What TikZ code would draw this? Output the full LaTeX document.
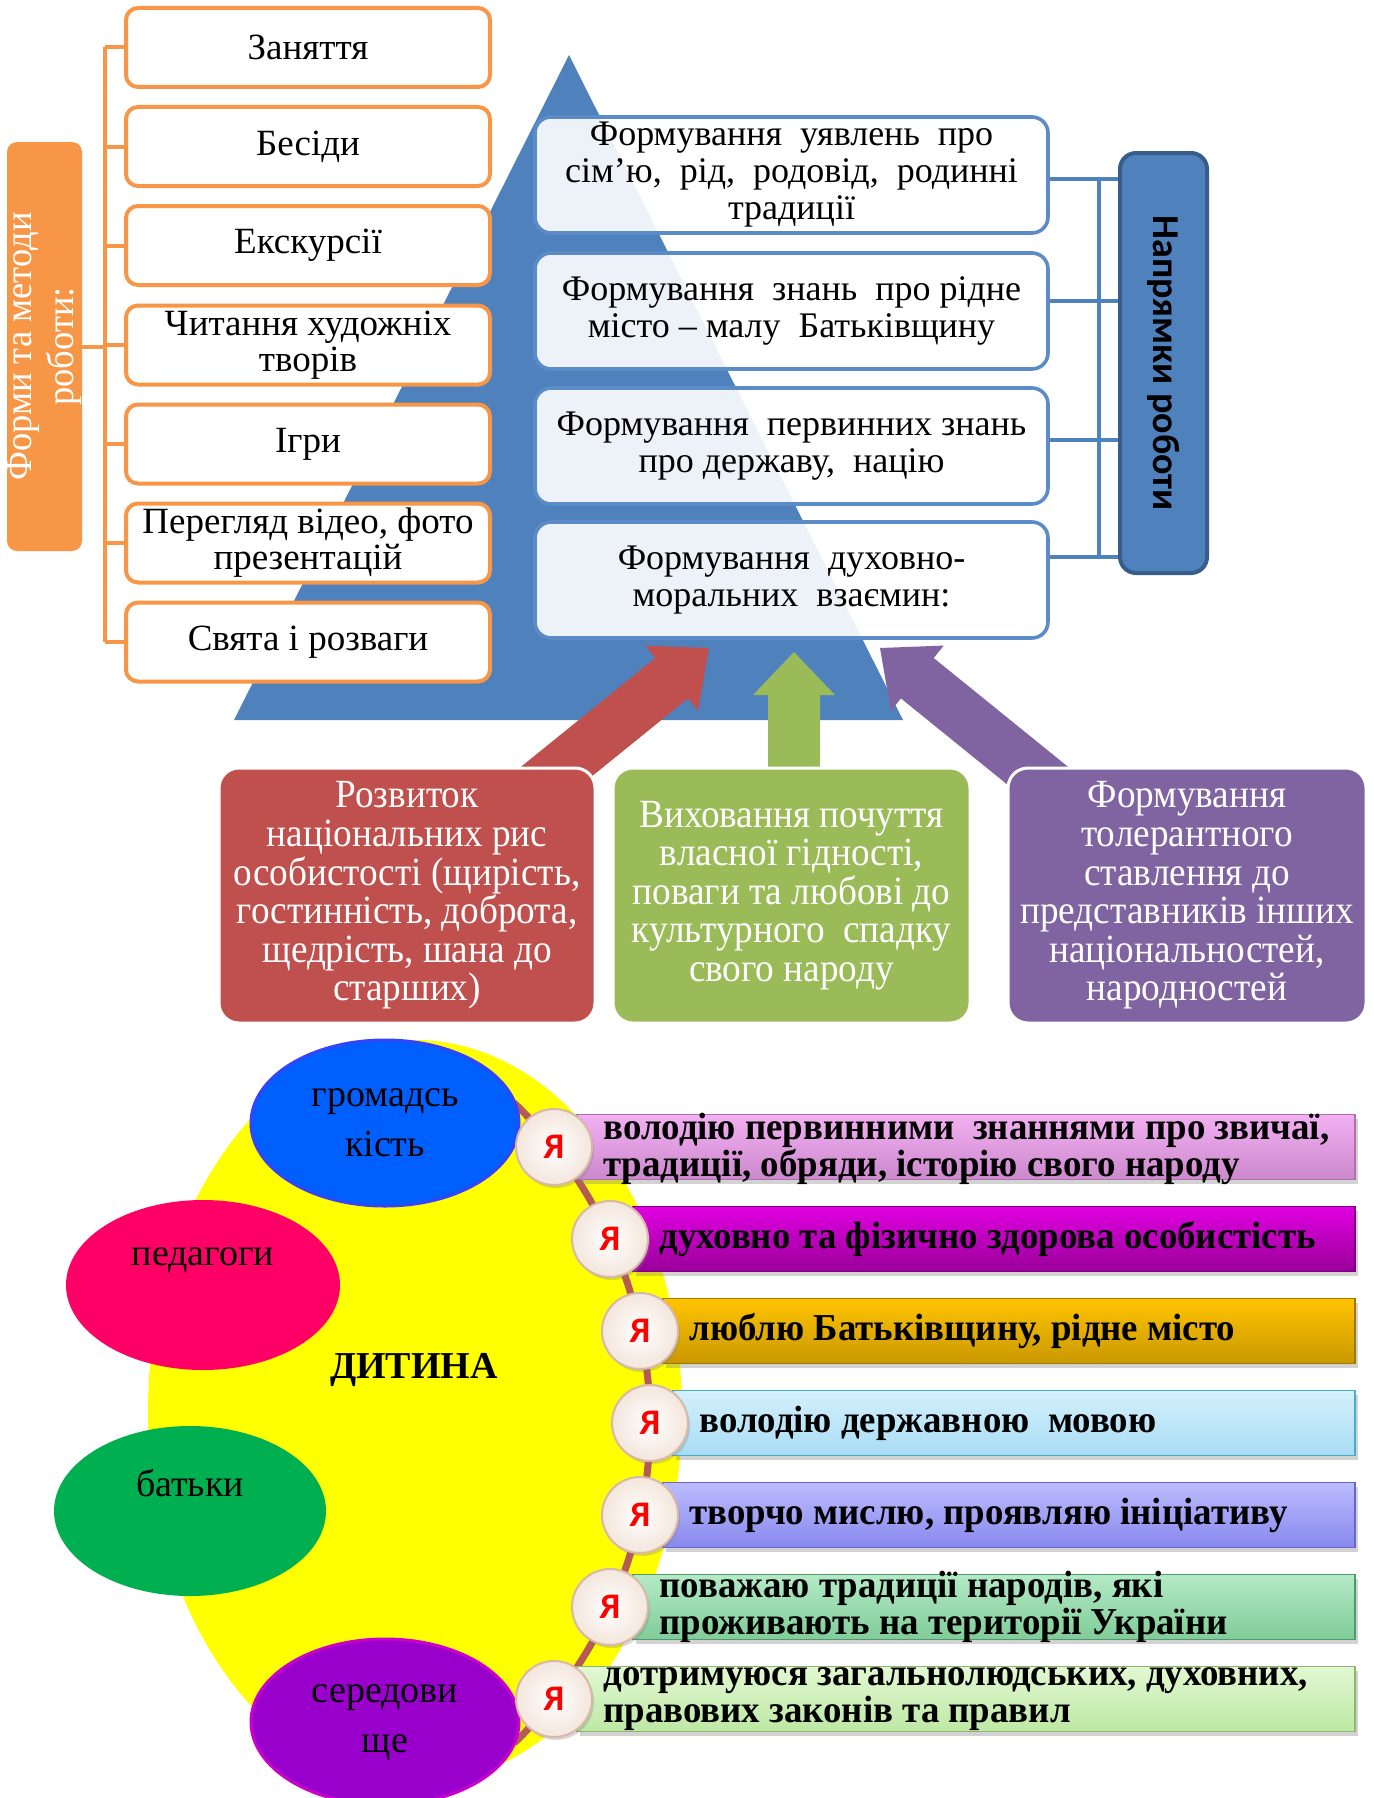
\documentclass[tikz,border=0pt]{standalone}
\usepackage{fontspec}
\setmainfont{Liberation Serif}
\newfontfamily\condfont[FakeStretch=0.93]{Liberation Serif}
\newfontfamily\labfont[FakeStretch=0.96]{Liberation Serif}
\newfontfamily\barfont[FakeStretch=0.97]{Liberation Serif}
\newfontfamily\calfont{Carlito}
\usetikzlibrary{shapes.geometric,shadows,calc}
\definecolor{pyr}{HTML}{4F81BD}
\definecolor{rbord}{HTML}{5B8CC8}
\definecolor{napb}{HTML}{385D8A}
\definecolor{org}{HTML}{F79646}
\definecolor{cred}{HTML}{C0504D}
\definecolor{cgreen}{HTML}{9BBB59}
\definecolor{cpurp}{HTML}{8064A2}
\definecolor{chainc}{HTML}{B55A55}
\definecolor{eblue}{HTML}{0060FF}
\definecolor{ebluel}{HTML}{3344FF}
\definecolor{epink}{HTML}{FF0066}
\definecolor{egreen}{HTML}{00B050}
\definecolor{epurp}{HTML}{9900CC}
\definecolor{epurpl}{HTML}{CC00CC}
\definecolor{ylw}{HTML}{FFFF00}
\definecolor{yabord}{HTML}{D8B8A8}
\definecolor{yaout}{HTML}{F3E6DC}
\definecolor{bat}{HTML}{F2B0F2}\definecolor{bab}{HTML}{CC88CC}\definecolor{bad}{HTML}{B070B0}
\definecolor{bbt}{HTML}{E000E0}\definecolor{bbb}{HTML}{990099}\definecolor{bbd}{HTML}{800080}
\definecolor{bct}{HTML}{FFC400}\definecolor{bcb}{HTML}{C99800}\definecolor{bcd}{HTML}{A07800}
\definecolor{bdt}{HTML}{D4F0FC}\definecolor{bdb}{HTML}{A8DCF4}\definecolor{bdd}{HTML}{4BACC6}
\definecolor{bet}{HTML}{BCBCFF}\definecolor{beb}{HTML}{8888EE}\definecolor{bed}{HTML}{6666CC}
\definecolor{bft}{HTML}{B4EAC6}\definecolor{bfb}{HTML}{80CC98}\definecolor{bfd}{HTML}{4E9A6A}
\definecolor{bgt}{HTML}{E2F8D2}\definecolor{bgb}{HTML}{BDE8A4}\definecolor{bgd}{HTML}{8AB870}
\def\tight{\lineskiplimit=-100pt\relax}
\begin{document}
\begin{tikzpicture}[x=0.5pt,y=-0.5pt,
 lbox/.style={draw=org, line width=2pt, fill=white, rounded corners=6pt, minimum width=182pt, minimum height=39.5pt, inner sep=0pt, align=center, font=\fontsize{18.5}{18}\selectfont\tight},
 labbox/.style={fill=org, rounded corners=5pt, minimum width=204.5pt, minimum height=37.5pt, inner sep=0pt, align=center, text=white, font=\labfont\fontsize{19}{21}\selectfont\tight},
 brk/.style={draw=org, line width=2pt},
 rbox/.style={draw=rbord, line width=1.8pt, fill=white, fill opacity=0.9, text opacity=1, rounded corners=8pt, minimum width=256.5pt, minimum height=58pt, inner sep=0pt, align=center, font=\fontsize{18}{18.5}\selectfont\tight},
 napbox/.style={fill=pyr, draw=napb, line width=2pt, rounded corners=8pt, minimum width=210pt, minimum height=43.5pt, inner sep=0pt, font=\calfont\bfseries\fontsize{19}{20}\selectfont},
 rconn/.style={draw=pyr, line width=1.7pt},
 cbox/.style={draw=white, line width=1.5pt, rounded corners=10pt, minimum height=127.5pt, inner sep=0pt, align=center, text=white, font=\condfont\fontsize{20}{19.3}\selectfont\tight},
 ellbox/.style={ellipse, inner sep=0pt, align=center, font=\fontsize{19}{25}\selectfont},
 etext/.style={inner sep=0pt, font=\fontsize{19}{25}\selectfont},
 barbox/.style={rectangle, minimum height=32.5pt, inner sep=0pt, line width=0.8pt, anchor=west, drop shadow={shadow xshift=1.5pt, shadow yshift=-2pt, opacity=0.35}},
 btxt/.style={anchor=west, inner sep=0pt, align=left, font=\barfont\bfseries\fontsize{19}{18.5}\selectfont\tight},
 yacirc/.style={circle, minimum size=38pt, inner sep=0pt, draw=yabord, line width=1pt, inner color=white, outer color=yaout, text=red, font=\calfont\bfseries\fontsize{18}{18}\selectfont, drop shadow={shadow xshift=1pt, shadow yshift=-1.5pt, opacity=0.3}},
 chainline/.style={draw=chainc, line width=3.5pt}
]
\useasboundingbox (0,0) rectangle (1374,1798);
\fill[white] (0,0) rectangle (1374,1798);

% pyramid
\coordinate (apex) at (569,55);
\coordinate (bl) at (234,720);
\coordinate (br) at (903,720);
\fill[pyr] (apex) -- (br) -- (bl) -- cycle;

% block arrows
\begin{scope}[shift={(709,648)}, rotate=39]
\fill[cred] (0,0) -- (-48,42) -- (-48,26) -- (-240,26) -- (-240,-26) -- (-48,-26) -- (-48,-42) -- cycle;
\end{scope}
\begin{scope}[shift={(794,652)}, rotate=90]
\fill[cgreen] (0,0) -- (-43,41) -- (-43,26) -- (-125,26) -- (-125,-26) -- (-43,-26) -- (-43,-41) -- cycle;
\end{scope}
\begin{scope}[shift={(880,648)}, rotate=141]
\fill[cpurp] (0,0) -- (-48,42) -- (-48,26) -- (-240,26) -- (-240,-26) -- (-48,-26) -- (-48,-42) -- cycle;
\end{scope}

% left column
\node[lbox] (l1) at (308,47.5) {Заняття};
\node[lbox] (l2) at (308,146.5) {Бесіди};
\node[lbox] (l3) at (308,245.5) {Екскурсії};
\node[lbox] (l4) at (308,345) {Читання художніх\\творів};
\node[lbox] (l5) at (308,444) {Ігри};
\node[lbox] (l6) at (308,543) {Перегляд відео, фото\\презентацій};
\node[lbox] (l7) at (308,642) {Свята і розваги};
\node[labbox, rotate=90] (lab) at (44.5,346.5) {Форми та методи\\роботи:};
\coordinate (bt) at (105,47.5);
\coordinate (bb) at (105,642);
\draw[brk] (bt) -- (bb);
\foreach \i in {1,...,7} \draw[brk] (l\i.west) -- (l\i.west -| bt);
\draw[brk] (lab.south) -- (lab.south -| bt);

% right column
\node[rbox] (r1) at (791.5,175) {Формування \ уявлень \ про\\сім’ю, \ рід, \ родовід, \ родинні\\традиції};
\node[rbox] (r2) at (791.5,311) {Формування \ знань \ про рідне\\місто – малу \ Батьківщину};
\node[rbox] (r3) at (791.5,446) {Формування \ первинних знань\\про державу, \ націю};
\node[rbox] (r4) at (791.5,580) {Формування \ духовно-\\моральних \ взаємин:};
\node[napbox, rotate=-90] (nap) at (1163.5,363) {Напрямки роботи};
\draw[rconn] ([yshift=-2pt]r1.east) -- ([yshift=-2pt]r1.east -| nap.south);
\draw[rconn] ([yshift=5pt]r2.east) -- ([yshift=5pt]r2.east -| nap.south);
\draw[rconn] ([yshift=3pt]r3.east) -- ([yshift=3pt]r3.east -| nap.south);
\draw[rconn] ([yshift=11.5pt]r4.east) -- ([yshift=11.5pt]r4.east -| nap.south);
\coordinate (v1) at (1099,179);
\coordinate (v4) at (1099,557);
\draw[rconn] (v1) -- (v4);

% coloured boxes
\node[cbox, fill=cred, minimum width=188pt] (c1) at (407,895.5) {Розвиток\\національних рис\\особистості (щирість,\\гостинність, доброта,\\щедрість, шана до\\старших)};
\node[cbox, fill=cgreen, minimum width=178.5pt] (c2) at (791.5,895.5) {Виховання почуття\\власної гідності,\\поваги та любові до\\культурного \ спадку\\свого народу};
\node[cbox, fill=cpurp, minimum width=179pt] (c3) at (1187,895.5) {Формування\\толерантного\\ставлення до\\представників інших\\національностей,\\народностей};

% bottom part
\node[ellipse, fill=ylw, minimum width=267pt, minimum height=372pt, inner sep=0pt] (ych) at (415,1412) {};
\node[font=\bfseries\fontsize{19}{20}\selectfont, inner sep=0pt] (dyt) at (414,1370) {ДИТИНА};
\coordinate (arcc) at (205,1423);
\draw[chainline] (arcc) ++(-46:445) arc[start angle=-46, end angle=46, radius=445];

\node[ellbox, fill=eblue, draw=ebluel, line width=1.5pt, minimum width=134pt, minimum height=83pt] (e1) at (385,1123) {громадсь\\кість};
\node[ellbox, fill=epink, minimum width=137pt, minimum height=85pt] (e2) at (203,1285) {};
\node[etext] (e2t) at (203,1260) {педагоги};
\node[ellbox, fill=egreen, minimum width=136pt, minimum height=85pt] (e3) at (190,1511) {};
\node[etext] (e3t) at (190,1483) {батьки};
\node[ellbox, fill=epurp, draw=epurpl, line width=1.5pt, minimum width=134pt, minimum height=83pt] (e4) at (385,1722) {середови\\ще};

% bars
\node[barbox, top color=bat, bottom color=bab, draw=bad, minimum width=389pt] (b1) at (576,1147) {};
\node[barbox, top color=bbt, bottom color=bbb, draw=bbd, minimum width=361pt] (b2) at (632,1239) {};
\node[barbox, top color=bct, bottom color=bcb, draw=bcd, minimum width=346pt] (b3) at (662,1331) {};
\node[barbox, top color=bdt, bottom color=bdb, draw=bdd, minimum width=341pt] (b4) at (672,1423) {};
\node[barbox, top color=bet, bottom color=beb, draw=bed, minimum width=346pt] (b5) at (662,1515) {};
\node[barbox, top color=bft, bottom color=bfb, draw=bfd, minimum width=361pt] (b6) at (632,1607) {};
\node[barbox, top color=bgt, bottom color=bgb, draw=bgd, minimum width=389pt] (b7) at (576,1699) {};

\node[btxt] (t1) at ([xshift=13.5pt,yshift=-1pt]b1.west) {володію первинними \ знаннями про звичаї,\\традиції, обряди, історію свого народу};
\node[btxt] (t2) at ([xshift=13.5pt]b2.west) {духовно та фізично здорова особистість};
\node[btxt] (t3) at ([xshift=13.5pt]b3.west) {люблю Батьківщину, рідне місто};
\node[btxt] (t4) at ([xshift=13.5pt]b4.west) {володію державною \ мовою};
\node[btxt] (t5) at ([xshift=13.5pt]b5.west) {творчо мислю, проявляю ініціативу};
\node[btxt] (t6) at ([xshift=13.5pt]b6.west) {поважаю традиції народів, які\\проживають на території України};
\node[btxt] (t7) at ([xshift=13.5pt]b7.west) {дотримуюся загальнолюдських, духовних,\\правових законів та правил};

% Я circles
\node[yacirc] (y1) at (554,1147) {Я};
\node[yacirc] (y2) at (610,1239) {Я};
\node[yacirc] (y3) at (640,1331) {Я};
\node[yacirc] (y4) at (650,1423) {Я};
\node[yacirc] (y5) at (640,1515) {Я};
\node[yacirc] (y6) at (610,1607) {Я};
\node[yacirc] (y7) at (554,1699) {Я};
\end{tikzpicture}
\end{document}
